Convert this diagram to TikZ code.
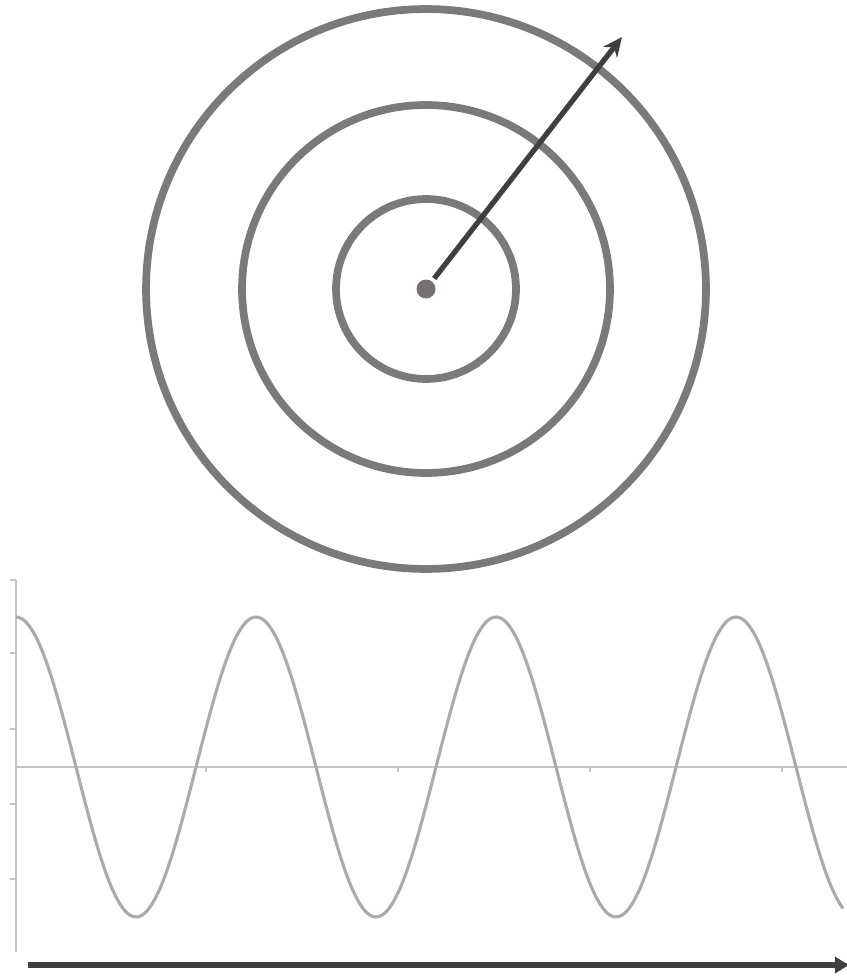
\documentclass[tikz,border=0pt]{standalone}
\usetikzlibrary{arrows.meta}
\definecolor{ringgray}{HTML}{7A7A7A}
\definecolor{dotgray}{HTML}{767071}
\definecolor{arrgray}{HTML}{3F3F3F}
\definecolor{wavegray}{HTML}{ABABAB}
\definecolor{axisgray}{HTML}{C4C4C4}

\begin{document}
\begin{tikzpicture}[
    x=0.02cm, y=-0.02cm,
    ring/.style={draw=ringgray, line width=4.4pt, circle, inner sep=0pt},
    dot/.style={fill=dotgray, circle, inner sep=0pt, minimum size=0.38cm},
    arr/.style={-{Stealth[length=11pt, width=10pt]}, draw=arrgray, line width=3pt},
    axis/.style={draw=axisgray, line width=1.1pt},
    wave/.style={draw=wavegray, line width=1.8pt}
]
\useasboundingbox (0,0) rectangle (847,976);
\node[dot] (hub) at (426,289) {};
\node[ring, minimum size=3.6cm] (r1) at (hub) {};
\node[ring, minimum size=7.36cm] (r2) at (hub) {};
\node[ring, minimum size=11.2cm] (r3) at (hub) {};
\coordinate (tip) at (622,37);
\draw[arr, shorten <=2pt] (hub) -- (tip);

\coordinate (ytop) at (16,580);
\coordinate (ybot) at (16,952);
\coordinate (x0) at (16,767);
\coordinate (x1) at (847,767);
\draw[axis] (ytop) -- (ybot);
\draw[axis] (x0) -- (x1);
\foreach \y in {580,653,729,804,879}
    \draw[axis] (10,\y) -- (16,\y);
\foreach \x in {206,398,590,782}
    \draw[axis] (\x,767) -- (\x,772);
\draw[wave] plot[domain=16:843, samples=240, smooth] (\x, {767-150*cos((\x-16)*1.5)});

\coordinate (t0) at (28,965);
\coordinate (t1) at (849,965);
\draw[arr, -{Triangle[length=8pt, width=9pt]}] (t0) -- (t1);
\end{tikzpicture}
\end{document}
